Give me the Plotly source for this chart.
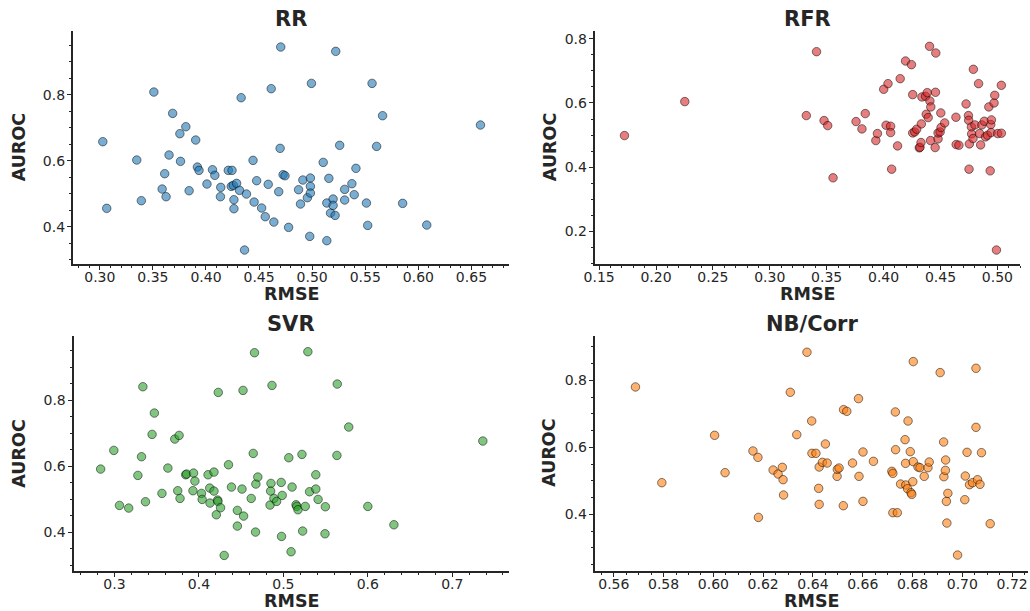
import plotly.graph_objects as go

# ---- RR ----
rr_rmse = [0.3028, 0.3065, 0.3348, 0.3391, 0.3509, 0.3611, 0.3587, 0.3624, 0.3652, 0.3686,
           0.3754, 0.3760, 0.3810, 0.3841, 0.3903, 0.3919, 0.3934, 0.4009, 0.4061, 0.4083,
           0.4139, 0.4136, 0.4210, 0.4245, 0.4238, 0.4257, 0.4288, 0.4263, 0.4263, 0.4316,
           0.4331, 0.4381, 0.4363, 0.4443, 0.4453, 0.4477, 0.4524, 0.4558, 0.4586, 0.4614,
           0.4639, 0.4685, 0.4698, 0.4704, 0.4726, 0.4744, 0.4778, 0.4872, 0.4890, 0.4912,
           0.4955, 0.4983, 0.4983, 0.4983, 0.4977, 0.4993, 0.5104, 0.5138, 0.5138, 0.5157,
           0.5173, 0.5197, 0.5197, 0.5216, 0.5222, 0.5259, 0.5306, 0.5306, 0.5374, 0.5396,
           0.5412, 0.5511, 0.5523, 0.5564, 0.5607, 0.5663, 0.5852, 0.6079, 0.6585]
rr_auroc = [0.6576, 0.4556, 0.6020, 0.4788, 0.8080, 0.5606, 0.5141, 0.4909, 0.6172, 0.7434,
            0.6818, 0.5980, 0.7030, 0.5090, 0.6626, 0.5808, 0.5707, 0.5293, 0.5727, 0.5556,
            0.5192, 0.4909, 0.5707, 0.5707, 0.5222, 0.5253, 0.5313, 0.4818, 0.4545, 0.5101,
            0.7909, 0.4990, 0.3293, 0.6010, 0.4747, 0.5394, 0.4566, 0.4303, 0.5283, 0.8182,
            0.4141, 0.5061, 0.6374, 0.9444, 0.5576, 0.5545, 0.3980, 0.5121, 0.4687, 0.5414,
            0.4879, 0.5475, 0.5222, 0.5020, 0.3707, 0.8343, 0.5949, 0.4717, 0.3576, 0.5465,
            0.4414, 0.4838, 0.4646, 0.4343, 0.9313, 0.6465, 0.5131, 0.4808, 0.5303, 0.4970,
            0.5768, 0.4717, 0.4040, 0.8343, 0.6434, 0.7364, 0.4707, 0.4050, 0.7081]

# ---- RFR ----
rfr_rmse = [0.1723, 0.2253, 0.3321, 0.3411, 0.3477, 0.3509, 0.3556, 0.3758, 0.3810, 0.3839,
            0.3932, 0.3946, 0.4001, 0.4039, 0.4022, 0.4062, 0.4062, 0.4071, 0.4123, 0.4146,
            0.4193, 0.4245, 0.4256, 0.4256, 0.4274, 0.4291, 0.4314, 0.4320, 0.4329, 0.4332,
            0.4337, 0.4369, 0.4375, 0.4384, 0.4392, 0.4404, 0.4407, 0.4415, 0.4413, 0.4453,
            0.4456, 0.4459, 0.4479, 0.4479, 0.4497, 0.4503, 0.4505, 0.4537, 0.4636, 0.4638,
            0.4662, 0.4725, 0.4746, 0.4748, 0.4751, 0.4754, 0.4772, 0.4774, 0.4786, 0.4789,
            0.4803, 0.4835, 0.4844, 0.4853, 0.4864, 0.4885, 0.4896, 0.4913, 0.4925, 0.4937,
            0.4942, 0.4948, 0.4945, 0.4971, 0.4977, 0.4992, 0.5003, 0.5035, 0.5035]
rfr_auroc = [0.4984, 0.6041, 0.5606, 0.7596, 0.5451, 0.5295, 0.3668, 0.5420, 0.5192, 0.5668,
             0.4829, 0.5047, 0.6425, 0.6601, 0.5306, 0.5275, 0.5078, 0.3938, 0.4663, 0.6756,
             0.7306, 0.7192, 0.6259, 0.5067, 0.5098, 0.5181, 0.4601, 0.4622, 0.4767, 0.5347,
             0.6187, 0.6207, 0.5648, 0.6321, 0.5544, 0.7762, 0.6062, 0.5876, 0.4829, 0.4611,
             0.6332, 0.7554, 0.4881, 0.5067, 0.5098, 0.5689, 0.5233, 0.5378, 0.5554, 0.4705,
             0.4684, 0.5969, 0.5606, 0.5461, 0.3938, 0.4725, 0.5254, 0.5036, 0.4891, 0.7047,
             0.5316, 0.6601, 0.5047, 0.4694, 0.5316, 0.5430, 0.4943, 0.4995, 0.5876, 0.3886,
             0.5326, 0.5472, 0.5078, 0.6000, 0.6238, 0.1420, 0.5047, 0.5057, 0.6549]

# ---- SVR ----
svr_rmse = [0.2836, 0.2992, 0.3059, 0.3168, 0.3277, 0.3320, 0.3336, 0.3367, 0.3445, 0.3472,
            0.3562, 0.3632, 0.3714, 0.3749, 0.3765, 0.3776, 0.3843, 0.3854, 0.3929, 0.3936,
            0.3952, 0.4030, 0.4038, 0.4108, 0.4128, 0.4131, 0.4178, 0.4178, 0.4206, 0.4221,
            0.4225, 0.4229, 0.4256, 0.4350, 0.4299, 0.4385, 0.4455, 0.4455, 0.4510, 0.4522,
            0.4529, 0.4619, 0.4643, 0.4658, 0.4674, 0.4670, 0.4697, 0.4853, 0.4849, 0.4842,
            0.4865, 0.4888, 0.4920, 0.4974, 0.4986, 0.4978, 0.5064, 0.5091, 0.5103, 0.5150,
            0.5158, 0.5173, 0.5220, 0.5228, 0.5259, 0.5290, 0.5310, 0.5384, 0.5384, 0.5411,
            0.5497, 0.5493, 0.5634, 0.5638, 0.5774, 0.6000, 0.6309, 0.7362]
svr_auroc = [0.5909, 0.6475, 0.4808, 0.4727, 0.5717, 0.6283, 0.8404, 0.4919, 0.6960, 0.7606,
             0.5172, 0.5939, 0.6818, 0.5253, 0.6929, 0.5020, 0.5737, 0.5758, 0.5253, 0.5788,
             0.5545, 0.5172, 0.4990, 0.5737, 0.5333, 0.4879, 0.5818, 0.5242, 0.4525, 0.4970,
             0.4929, 0.8232, 0.4737, 0.6040, 0.3293, 0.5364, 0.4657, 0.4182, 0.5303, 0.8293,
             0.4485, 0.5020, 0.6384, 0.9434, 0.5455, 0.4000, 0.5667, 0.5475, 0.5242, 0.4818,
             0.8444, 0.5020, 0.4929, 0.5505, 0.5111, 0.3869, 0.6253, 0.3404, 0.5364, 0.4828,
             0.4778, 0.4677, 0.6354, 0.4030, 0.4778, 0.9465, 0.5222, 0.5737, 0.5303, 0.4990,
             0.4768, 0.3949, 0.6323, 0.8485, 0.7182, 0.4778, 0.4222, 0.6758]

# ---- NB/Corr ----
nb_rmse = [0.5687, 0.5793, 0.6005, 0.6047, 0.6159, 0.6179, 0.6181, 0.6240, 0.6260, 0.6277,
           0.6280, 0.6282, 0.6309, 0.6335, 0.6376, 0.6395, 0.6396, 0.6412, 0.6423, 0.6425,
           0.6425, 0.6438, 0.6450, 0.6457, 0.6497, 0.6498, 0.6505, 0.6522, 0.6523, 0.6536,
           0.6559, 0.6583, 0.6585, 0.6601, 0.6601, 0.6643, 0.6717, 0.6721, 0.6721, 0.6731,
           0.6732, 0.6739, 0.6752, 0.6770, 0.6772, 0.6773, 0.6780, 0.6782, 0.6791, 0.6794,
           0.6797, 0.6801, 0.6803, 0.6803, 0.6822, 0.6830, 0.6847, 0.6862, 0.6867, 0.6911,
           0.6925, 0.6926, 0.6932, 0.6933, 0.6936, 0.6938, 0.6942, 0.6981, 0.7010, 0.7012,
           0.7019, 0.7029, 0.7041, 0.7055, 0.7055, 0.7061, 0.7071, 0.7077, 0.7112]
nb_auroc = [0.7801, 0.4945, 0.6358, 0.5244, 0.5891, 0.5701, 0.3910, 0.5323, 0.5204, 0.5403,
            0.5035, 0.4577, 0.7642, 0.6378, 0.8836, 0.6786, 0.5821, 0.5821, 0.4776, 0.5413,
            0.4299, 0.5552, 0.6100, 0.5532, 0.5134, 0.5343, 0.5383, 0.4259, 0.7124, 0.7075,
            0.5532, 0.7453, 0.5134, 0.5861, 0.4388, 0.5582, 0.5284, 0.5224, 0.4050, 0.7055,
            0.5930, 0.4050, 0.4905, 0.6229, 0.5522, 0.4876, 0.4766, 0.6786, 0.5871, 0.4647,
            0.4597, 0.4975, 0.8557, 0.5572, 0.5413, 0.5393, 0.5134, 0.5393, 0.5562, 0.8229,
            0.6159, 0.5124, 0.5313, 0.5622, 0.4388, 0.3741, 0.4627, 0.2786, 0.4438, 0.5144,
            0.5851, 0.4886, 0.4945, 0.8358, 0.6597, 0.5035, 0.4896, 0.5841, 0.3721]

W, H = 1030, 611
INK = "#262626"
FONT = "DejaVu Sans"

panels = [
    dict(title="RR", x=rr_rmse, y=rr_auroc, rgb=(31, 119, 180),
         px=(62, 503), py=(31, 264), xr=[0.275, 0.6855], yr=[0.287, 0.993],
         xd=0.05, xm=0.01, xf=".2f"),
    dict(title="RFR", x=rfr_rmse, y=rfr_auroc, rgb=(214, 39, 40),
         px=(590, 1020), py=(31, 264), xr=[0.1465, 0.520], yr=[0.0985, 0.824],
         xd=0.05, xm=0.01, xf=".2f"),
    dict(title="SVR", x=svr_rmse, y=svr_auroc, rgb=(44, 160, 44),
         px=(62.7, 502.7), py=(335.7, 570.7), xr=[0.252, 0.767], yr=[0.283, 0.995],
         xd=0.1, xm=0.02, xf=".1f"),
    dict(title="NB/Corr", x=nb_rmse, y=nb_auroc, rgb=(255, 127, 14),
         px=(590, 1028), py=(335.7, 570.7), xr=[0.5525, 0.7264], yr=[0.232, 0.933],
         xd=0.02, xm=0.005, xf=".2f"),
]

fig = go.Figure()
annotations = []
layout = dict(
    width=W, height=H, margin=dict(l=0, r=0, t=0, b=0),
    paper_bgcolor="white", plot_bgcolor="white", showlegend=False,
    font=dict(family=FONT, color=INK, size=14),
)

for i, p in enumerate(panels, start=1):
    sfx = "" if i == 1 else str(i)
    r, g, b = p["rgb"]
    fig.add_trace(go.Scatter(
        x=p["x"], y=p["y"], mode="markers",
        xaxis="x" + sfx, yaxis="y" + sfx,
        marker=dict(size=8.5, color=f"rgba({r},{g},{b},0.6)",
                    line=dict(color="rgba(0,0,0,0.55)", width=0.9)),
        hoverinfo="x+y",
    ))
    xdom = [p["px"][0] / W, p["px"][1] / W]
    ydom = [1 - p["py"][1] / H, 1 - p["py"][0] / H]
    common = dict(showgrid=False, zeroline=False, showline=True, linecolor=INK,
                  linewidth=1.8, ticks="outside", ticklen=4.5, tickwidth=1.2,
                  tickcolor=INK, tickfont=dict(family=FONT, size=14, color=INK))
    layout["xaxis" + sfx] = dict(
        common, domain=xdom, range=p["xr"], anchor="y" + sfx,
        tick0=0, dtick=p["xd"], tickformat=p["xf"], ticklabelstandoff=-5,
        minor=dict(dtick=p["xm"], tick0=0, ticks="outside", ticklen=2.5,
                   tickwidth=1, tickcolor=INK, showgrid=False),
    )
    layout["yaxis" + sfx] = dict(
        common, domain=ydom, range=p["yr"], anchor="x" + sfx,
        tick0=0, dtick=0.2, tickformat=".1f", ticklabelstandoff=-1,
        minor=dict(dtick=0.05, tick0=0, ticks="outside", ticklen=2.5,
                   tickwidth=1, tickcolor=INK, showgrid=False),
    )
    cx = (p["px"][0] + p["px"][1]) / 2 / W
    # panel title
    annotations.append(dict(
        text=f"<b>{p['title']}</b>", x=cx, y=1 - (p["py"][0] - 11.5) / H,
        xref="paper", yref="paper", xanchor="center", yanchor="middle",
        showarrow=False, font=dict(family=FONT, size=21, color=INK)))
    # x-axis label
    annotations.append(dict(
        text="<b>RMSE</b>", x=cx, y=1 - (p["py"][1] + 30) / H,
        xref="paper", yref="paper", xanchor="center", yanchor="middle",
        showarrow=False, font=dict(family=FONT, size=17.5, color=INK)))
    # y-axis label (rotated), centred 43 px left of the spine
    annotations.append(dict(
        text="<b>AUROC</b>", x=(p["px"][0] - 43) / W,
        y=1 - (p["py"][0] + p["py"][1]) / 2 / H,
        xref="paper", yref="paper", xanchor="center", yanchor="middle",
        xshift=-12 if p["px"][0] < 100 else -3,
        textangle=-90, showarrow=False,
        font=dict(family=FONT, size=17.5, color=INK)))

layout["annotations"] = annotations
fig.update_layout(**layout)
fig.write_html("out.html")
